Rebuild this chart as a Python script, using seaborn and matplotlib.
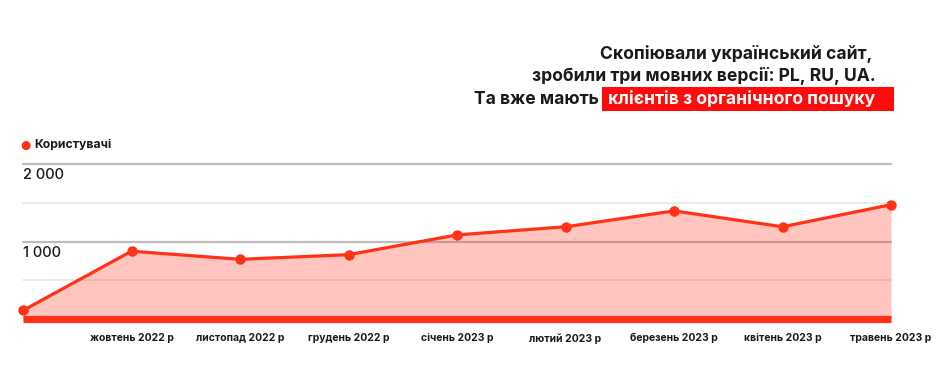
import numpy as np
import pandas as pd
import seaborn as sns
import matplotlib.pyplot as plt
from matplotlib.patches import Rectangle

months = ["вересень 2022 р", "жовтень 2022 р", "листопад 2022 р", "грудень 2022 р",
          "січень 2023 р", "лютий 2023 р", "березень 2023 р", "квітень 2023 р",
          "травень 2023 р"]
tick_labels = [""] + months[1:]
users = [110, 875, 770, 830, 1085, 1190, 1395, 1190, 1475]
y_ticks = [0, 500, 1000, 1500, 2000]
y_labels = {1000: "1 000", 2000: "2 000"}

title_lines = ["Скопіювали український сайт,", "зробили три мовних версії: PL, RU, UA."]
title_plain = "Та вже мають"
title_accent = "клієнтів з органічного пошуку"
series_name = "Користувачі"

RED = "#ff3217"
W, H = 940, 369

sns.set_theme(style="white")
plt.rcParams["font.family"] = ["Inter", "DejaVu Sans"]

df = pd.DataFrame({"pos": np.arange(len(users)), "users": users})

fig = plt.figure(figsize=(W / 100, H / 100), dpi=100)
x0, x1 = 23, 891
y_zero, y_top = 319, 164
ax = fig.add_axes([x0 / W, (H - y_zero) / H, (x1 - x0) / W, (y_zero - y_top) / H])
ax.set_xlim(0, len(users) - 1)
ax.set_ylim(0, 2000)

# gridlines
for v in y_ticks[1:]:
    major = v in y_labels
    ax.axhline(v, color="#bdbdbd" if major else "#e6e6e6",
               lw=1.6 if major else 1.2, zorder=1, clip_on=False)
    if major:
        ax.text(0, v - 55, y_labels[v], ha="left", va="top", fontsize=10.5,
                color="#1a1a1a", fontweight="medium")

ax.fill_between(df["pos"], 0, df["users"], color=RED, alpha=0.28, lw=0, zorder=2)
sns.lineplot(data=df, x="pos", y="users", ax=ax, color=RED, lw=2.3,
             marker="o", markersize=7.5, markeredgewidth=0, zorder=3, clip_on=False)
ax.axhline(0, color=RED, lw=5.2, zorder=4, clip_on=False, solid_capstyle="butt")

ax.set_xticks(df["pos"])
ax.set_xticklabels(tick_labels, fontsize=7.5, fontweight="bold", color="#1a1a1a")
ax.tick_params(axis="x", length=0, pad=10)
ax.set_yticks([])
ax.set_xlabel("")
ax.set_ylabel("")
sns.despine(ax=ax, left=True, bottom=True, top=True, right=True)

# legend
fig.text(25 / W, 1 - 145 / H, "●", color=RED, fontsize=8.5, ha="center", va="center",
         family="DejaVu Sans")
fig.text(34 / W, 1 - 145 / H, series_name, fontsize=8.8, fontweight="bold",
         color="#1a1a1a", ha="left", va="center")

# title
TS = 12.6
fig.text(872 / W, 1 - 59 / H, title_lines[0], ha="right", va="baseline",
         fontsize=TS, fontweight="bold", color="#1a1a1a")
fig.text(876 / W, 1 - 81 / H, title_lines[1], ha="right", va="baseline",
         fontsize=TS, fontweight="bold", color="#1a1a1a")
fig.patches.append(Rectangle((602 / W, 1 - 111 / H), 292 / W, 24 / H,
                             transform=fig.transFigure, facecolor="#ff0b0b",
                             edgecolor="none", zorder=1))
fig.text(875 / W, 1 - 104 / H, title_accent, ha="right", va="baseline",
         fontsize=TS, fontweight="bold", color="white", zorder=5)
fig.text(599 / W, 1 - 104 / H, title_plain, ha="right", va="baseline",
         fontsize=TS, fontweight="bold", color="#1a1a1a")

fig.savefig("out.png", dpi=100)
